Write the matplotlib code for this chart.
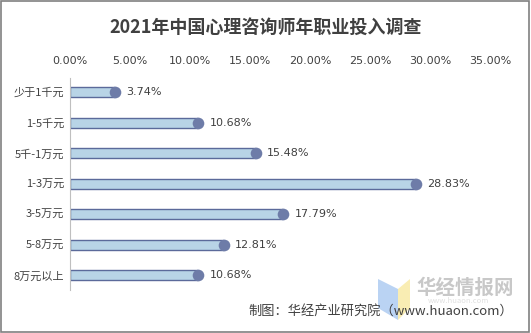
import matplotlib.pyplot as plt
from matplotlib.patches import Polygon, Rectangle

plt.rcParams['font.family'] = ['Noto Sans CJK SC', 'DejaVu Sans']

categories = ['少于1千元', '1-5千元', '5千-1万元', '1-3万元', '3-5万元', '5-8万元', '8万元以上']
values = [3.74, 10.68, 15.48, 28.83, 17.79, 12.81, 10.68]
xticks = [0, 5, 10, 15, 20, 25, 30, 35]

fig = plt.figure(figsize=(5.31, 3.33), dpi=100)
fig.patch.set_facecolor('white')
fig.patches.append(Rectangle((0.002, 0.003), 0.995, 0.994, transform=fig.transFigure,
                             fill=False, edgecolor='#808080', linewidth=1.2))

ax = fig.add_axes([70 / 531, 1 - 290 / 333, 420 / 531, 212 / 333])
y = list(range(len(categories)))
ax.barh(y, values, height=0.33, color='#B8D4E6', edgecolor='#5B6A9A', linewidth=1.0, zorder=2)
ax.scatter(values, y, s=70, color='#6E7CA8', zorder=3, linewidths=0)
for yi, v in zip(y, values):
    ax.text(v + 0.95, yi, f'{v:.2f}%', va='center', ha='left', fontsize=8,
            color='#404040', family='DejaVu Sans')

ax.set_xlim(0, 35)
ax.set_ylim(6.48, -0.46)
ax.set_yticks(y)
ax.set_yticklabels(categories, fontsize=8, color='#404040')
ax.set_xticks(xticks)
ax.set_xticklabels([f'{t:.2f}%' for t in xticks], fontsize=8, color='#404040',
                   family='DejaVu Sans')
ax.xaxis.tick_top()
ax.tick_params(axis='both', length=0)
ax.tick_params(axis='x', pad=9)
ax.tick_params(axis='y', pad=4)
for s in ['top', 'right', 'bottom']:
    ax.spines[s].set_visible(False)
ax.spines['left'].set_color('#BFBFBF')

fig.text(0.5, 1 - 27 / 333, '2021年中国心理咨询师年职业投入调查', ha='center', va='center',
         fontsize=13, fontweight='bold', color='#404040')

# watermark logo
fig.patches.append(Polygon([(378 / 531, 1 - 279 / 333), (398 / 531, 1 - 289 / 333),
                            (398 / 531, 1 - 320 / 333), (378 / 531, 1 - 308 / 333)],
                           closed=True, transform=fig.transFigure, facecolor='#A9C8F0',
                           edgecolor='none', alpha=0.8))
fig.patches.append(Polygon([(398 / 531, 1 - 289 / 333), (410 / 531, 1 - 279 / 333),
                            (410 / 531, 1 - 308 / 333), (398 / 531, 1 - 320 / 333)],
                           closed=True, transform=fig.transFigure, facecolor='#F8E9A0',
                           edgecolor='none', alpha=0.8))
fig.text(416 / 531, 1 - 288 / 333, '华经情报网', ha='left', va='center', fontsize=14,
         fontweight='bold', color='#C8C8C8')
fig.text(458 / 531, 1 - 301 / 333, 'www.huaon.com', ha='center', va='center', fontsize=5.5,
         color='#E0E0E0')

fig.text(513 / 531, 1 - 311 / 333, '制图：华经产业研究院（www.huaon.com）', ha='right', va='center',
         fontsize=9.5, color='#404040')

fig.savefig('out.png', dpi=100)
